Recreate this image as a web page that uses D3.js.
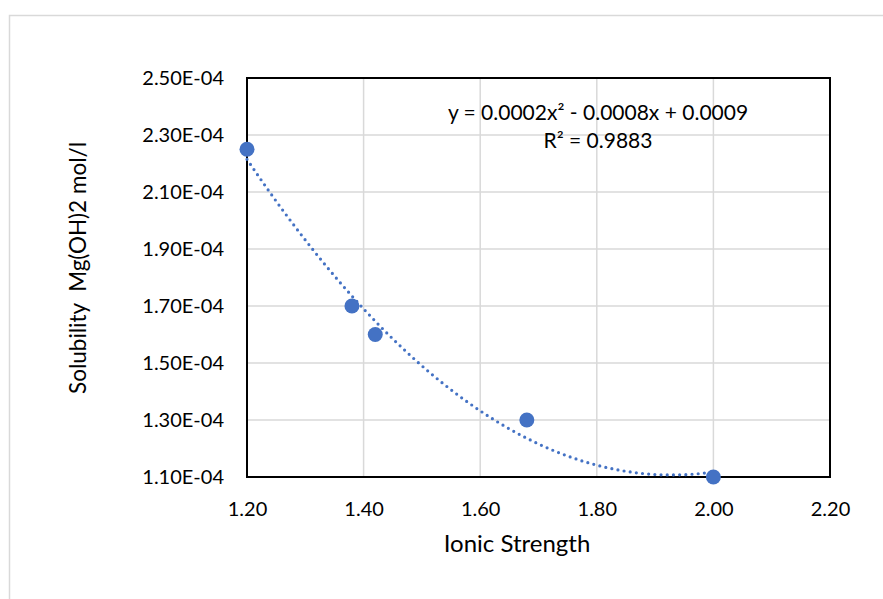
<html>
<head>
<meta charset="utf-8">
<title>Solubility vs Ionic Strength</title>
<script src="https://d3js.org/d3.v7.min.js"></script>
<style>
  body { margin: 0; background: #fff; }
  text { font-family: Lato, "Open Sans", sans-serif; fill: #000; }
</style>
</head>
<body>
<script>
var width = 883, height = 599

// data
var ionicStrength = [1.20, 1.38, 1.42, 1.68, 2.00]
var solubility = [2.25e-4, 1.70e-4, 1.60e-4, 1.30e-4, 1.10e-4]
var xTicks = [1.2, 1.4, 1.6, 1.8, 2.0, 2.2]
var yTicks = [1.1e-4, 1.3e-4, 1.5e-4, 1.7e-4, 1.9e-4, 2.1e-4, 2.3e-4, 2.5e-4]
var eqnLines = ["y = 0.0002x\u00B2 - 0.0008x + 0.0009", "R\u00B2 = 0.9883"]

var margin = {left: 247, top: 78, right: 53, bottom: 122}

var svg = d3.select("body").append("svg")
  .attr("width", width)
  .attr("height", height)

// chart area border
svg.append("rect")
  .attr("x", 9.5).attr("y", 15.5)
  .attr("width", width + 10).attr("height", height + 10)
  .attr("fill", "#fff")
  .attr("stroke", "#d9d9d9").attr("stroke-width", 1.5)

var x = d3.scaleLinear().domain([1.2, 2.2]).range([margin.left, width - margin.right])
var y = d3.scaleLinear().domain([1.1e-4, 2.5e-4]).range([height - margin.bottom, margin.top])

// gridlines
svg.append("g").selectAll("line.v").data(xTicks.slice(1, -1)).enter().append("line")
  .attr("x1", d => x(d)).attr("x2", d => x(d))
  .attr("y1", y(2.5e-4)).attr("y2", y(1.1e-4))
  .attr("stroke", "#d9d9d9").attr("stroke-width", 1.5)
svg.append("g").selectAll("line.h").data(yTicks.slice(1, -1)).enter().append("line")
  .attr("x1", x(1.2)).attr("x2", x(2.2))
  .attr("y1", d => y(d)).attr("y2", d => y(d))
  .attr("stroke", "#d9d9d9").attr("stroke-width", 1.5)

// plot area frame
svg.append("rect")
  .attr("x", x(1.2)).attr("y", y(2.5e-4))
  .attr("width", x(2.2) - x(1.2)).attr("height", y(1.1e-4) - y(2.5e-4))
  .attr("fill", "none").attr("stroke", "#000").attr("stroke-width", 2)

// axes (labels only)
svg.append("g")
  .attr("transform", "translate(0," + y(1.1e-4) + ")")
  .call(d3.axisBottom(x).tickValues(xTicks).tickFormat(d3.format(".2f")).tickSize(0).tickPadding(25))
svg.append("g")
  .attr("transform", "translate(" + x(1.2) + ",0)")
  .call(d3.axisLeft(y).tickValues(yTicks).tickFormat(d => d.toExponential(2).replace("e-", "E-0").toUpperCase()).tickSize(0).tickPadding(23))
svg.selectAll(".domain").remove()
svg.selectAll(".tick text").attr("font-size", 20).attr("font-family", "Lato, sans-serif").attr("fill", "#000")

// least-squares quadratic trendline from the data
function fitQuad(xs, ys) {
  var n = xs.length, S = [0, 0, 0, 0, 0], T = [0, 0, 0]
  for (var i = 0; i < n; i++) {
    for (var k = 0; k < 5; k++) S[k] += Math.pow(xs[i], k)
    for (var k = 0; k < 3; k++) T[k] += ys[i] * Math.pow(xs[i], k)
  }
  var A = [[S[0], S[1], S[2], T[0]], [S[1], S[2], S[3], T[1]], [S[2], S[3], S[4], T[2]]]
  for (var c = 0; c < 3; c++) {
    for (var r = c + 1; r < 3; r++) {
      var f = A[r][c] / A[c][c]
      for (var k = c; k < 4; k++) A[r][k] -= f * A[c][k]
    }
  }
  var b = [0, 0, 0]
  for (var r = 2; r >= 0; r--) {
    var s = A[r][3]
    for (var k = r + 1; k < 3; k++) s -= A[r][k] * b[k]
    b[r] = s / A[r][r]
  }
  return b
}
var coef = fitQuad(ionicStrength, solubility)
var trend = d3.range(0, 101).map(function(i) {
  var xv = 1.2 + (2.0 - 1.2) * i / 100
  return [xv, coef[0] + coef[1] * xv + coef[2] * xv * xv]
})
svg.append("path")
  .datum(trend)
  .attr("d", d3.line().x(d => x(d[0])).y(d => y(d[1])))
  .attr("fill", "none")
  .attr("stroke", "#4472c4").attr("stroke-width", 3.2)
  .attr("stroke-linecap", "round")
  .attr("stroke-dasharray", "0 6.2")

// points
svg.append("g").selectAll("circle")
  .data(ionicStrength.map((d, i) => [d, solubility[i]]))
  .enter().append("circle")
  .attr("cx", d => x(d[0])).attr("cy", d => y(d[1]))
  .attr("r", 7.5)
  .attr("fill", "#4472c4")

// equation label
svg.append("g").selectAll("text")
  .data(eqnLines).enter().append("text")
  .attr("x", 598).attr("y", (d, i) => 120 + i * 28)
  .attr("text-anchor", "middle")
  .attr("font-size", 21)
  .text(d => d)

// axis titles
svg.append("text")
  .attr("x", 517).attr("y", 552)
  .attr("text-anchor", "middle").attr("font-size", 24)
  .text("Ionic Strength")
svg.append("text")
  .attr("transform", "translate(86,268) rotate(-90)")
  .attr("text-anchor", "middle").attr("font-size", 22.5)
  .attr("xml:space", "preserve")
  .text("Solubility  Mg(OH)2 mol/l")
</script>
</body>
</html>
